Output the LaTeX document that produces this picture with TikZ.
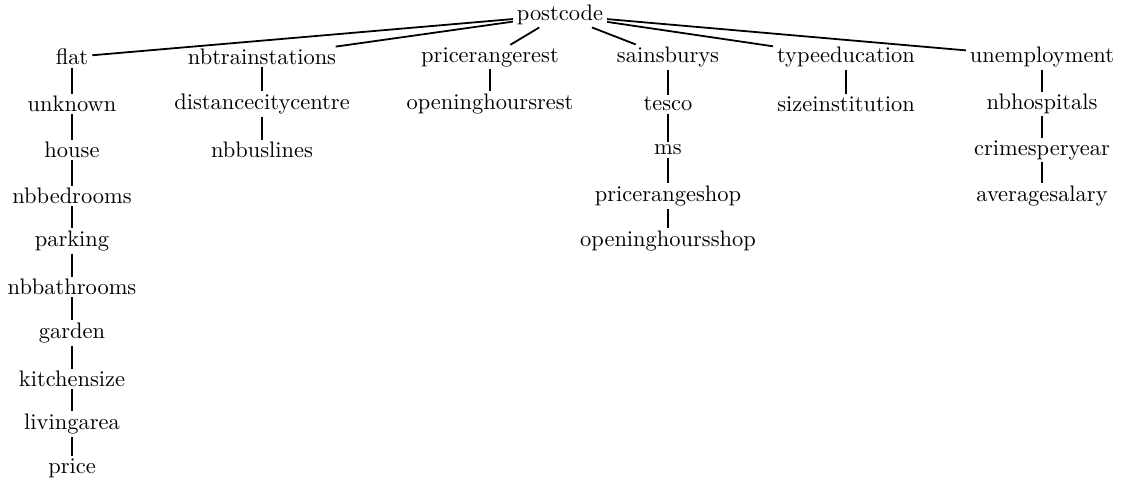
\documentclass[tikz,border=0pt]{standalone}
\begin{document}
\begin{tikzpicture}[x=0.4454pt,y=-0.4454pt,
  item/.style={inner xsep=1.6pt,inner ysep=0.9pt},
  link/.style={thick}]
\useasboundingbox (0,0) rectangle (1126,481);
% root
\node[item] (root) at (560,15) {postcode};
% first level
\node[item] (flat)  at (72,57)  {flat};
\node[item] (nbts)  at (262,57) {nbtrainstations};
\node[item] (prr)   at (490,57) {pricerangerest};
\node[item] (sains) at (668,57) {sainsburys};
\node[item] (tyed)  at (846,57) {typeeducation};
\node[item] (unem)  at (1042,57) {unemployment};
% property chain
\node[item] (unk)   at (72,104) {unknown};
\node[item] (house) at (72,150) {house};
\node[item] (nbbed) at (72,196) {nbbedrooms};
\node[item] (park)  at (72,241) {parking};
\node[item] (nbbath) at (72,287) {nbbathrooms};
\node[item] (gard)  at (72,333) {garden};
\node[item] (kit)   at (72,379) {kitchensize};
\node[item] (liv)   at (72,424) {livingarea};
\node[item] (price) at (72,468) {price};
% transport chain
\node[item] (dcc)   at (262,104) {distancecitycentre};
\node[item] (nbbus) at (262,150) {nbbuslines};
% restaurant chain
\node[item] (ohr)   at (490,104) {openinghoursrest};
% shop chain
\node[item] (tesco) at (668,104) {tesco};
\node[item] (ms)    at (668,150) {ms};
\node[item] (prs)   at (668,196) {pricerangeshop};
\node[item] (ohs)   at (668,241) {openinghoursshop};
% education chain
\node[item] (size)  at (846,104) {sizeinstitution};
% area chain
\node[item] (nbhos) at (1042,104) {nbhospitals};
\node[item] (crime) at (1042,150) {crimesperyear};
\node[item] (sal)   at (1042,196) {averagesalary};
% connectors
\foreach \c in {flat,nbts,prr,sains,tyed,unem}
  \draw[link] (root) -- (\c);
\draw[link] (flat) -- (unk) -- (house) -- (nbbed) -- (park) -- (nbbath)
  -- (gard) -- (kit) -- (liv) -- (price);
\draw[link] (nbts) -- (dcc) -- (nbbus);
\draw[link] (prr) -- (ohr);
\draw[link] (sains) -- (tesco) -- (ms) -- (prs) -- (ohs);
\draw[link] (tyed) -- (size);
\draw[link] (unem) -- (nbhos) -- (crime) -- (sal);
\end{tikzpicture}
\end{document}
